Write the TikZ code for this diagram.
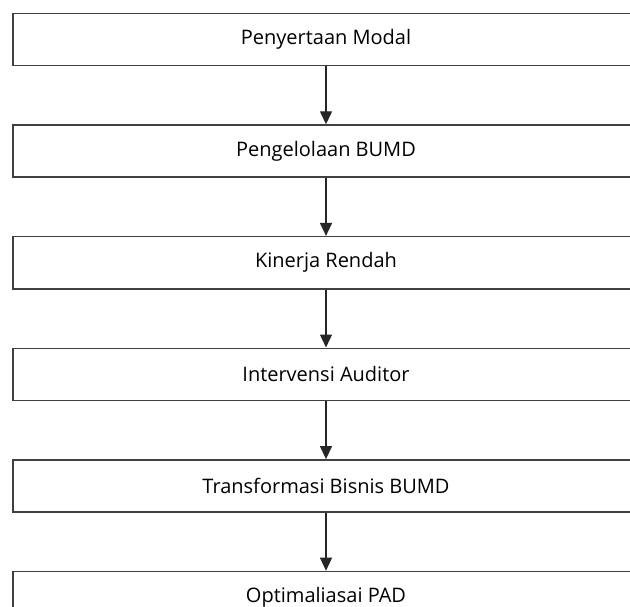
\documentclass[tikz,border=0pt]{standalone}
\usepackage{fontspec}
\setmainfont{Open Sans}
\usetikzlibrary{arrows.meta,positioning}
\tikzstyle{box} = [draw=black!75, rectangle, fill=white, line width=1.6pt, minimum width=626pt, minimum height=52pt, inner sep=0pt, text centered, font=\fontsize{20}{22}\selectfont]
\tikzstyle{line} = [draw, black!85, line width=1.3pt, -{Triangle[length=13pt,width=12pt]}]

\begin{document}
\begin{tikzpicture}[x=1pt, y=1pt, node distance=58pt]
	\useasboundingbox (0,0) rectangle (630,-607);
	\node [box] at (326,-39.5) (modal){Penyertaan Modal};
	\node [box, below=of modal](kelola){Pengelolaan BUMD};
	\node [box, below=of kelola](kinerja){Kinerja Rendah};
	\node [box, below=of kinerja](auditor){Intervensi Auditor};
	\node [box, below=of auditor](transformasi){Transformasi Bisnis BUMD};
	\node [box, below=of transformasi](pad){Optimaliasai PAD};

	\path [line] (modal) -- (kelola);
	\path [line] (kelola) -- (kinerja);
	\path [line] (kinerja) -- (auditor);
	\path [line] (auditor) -- (transformasi);
	\path [line] (transformasi) -- (pad);
\end{tikzpicture}
\end{document}
